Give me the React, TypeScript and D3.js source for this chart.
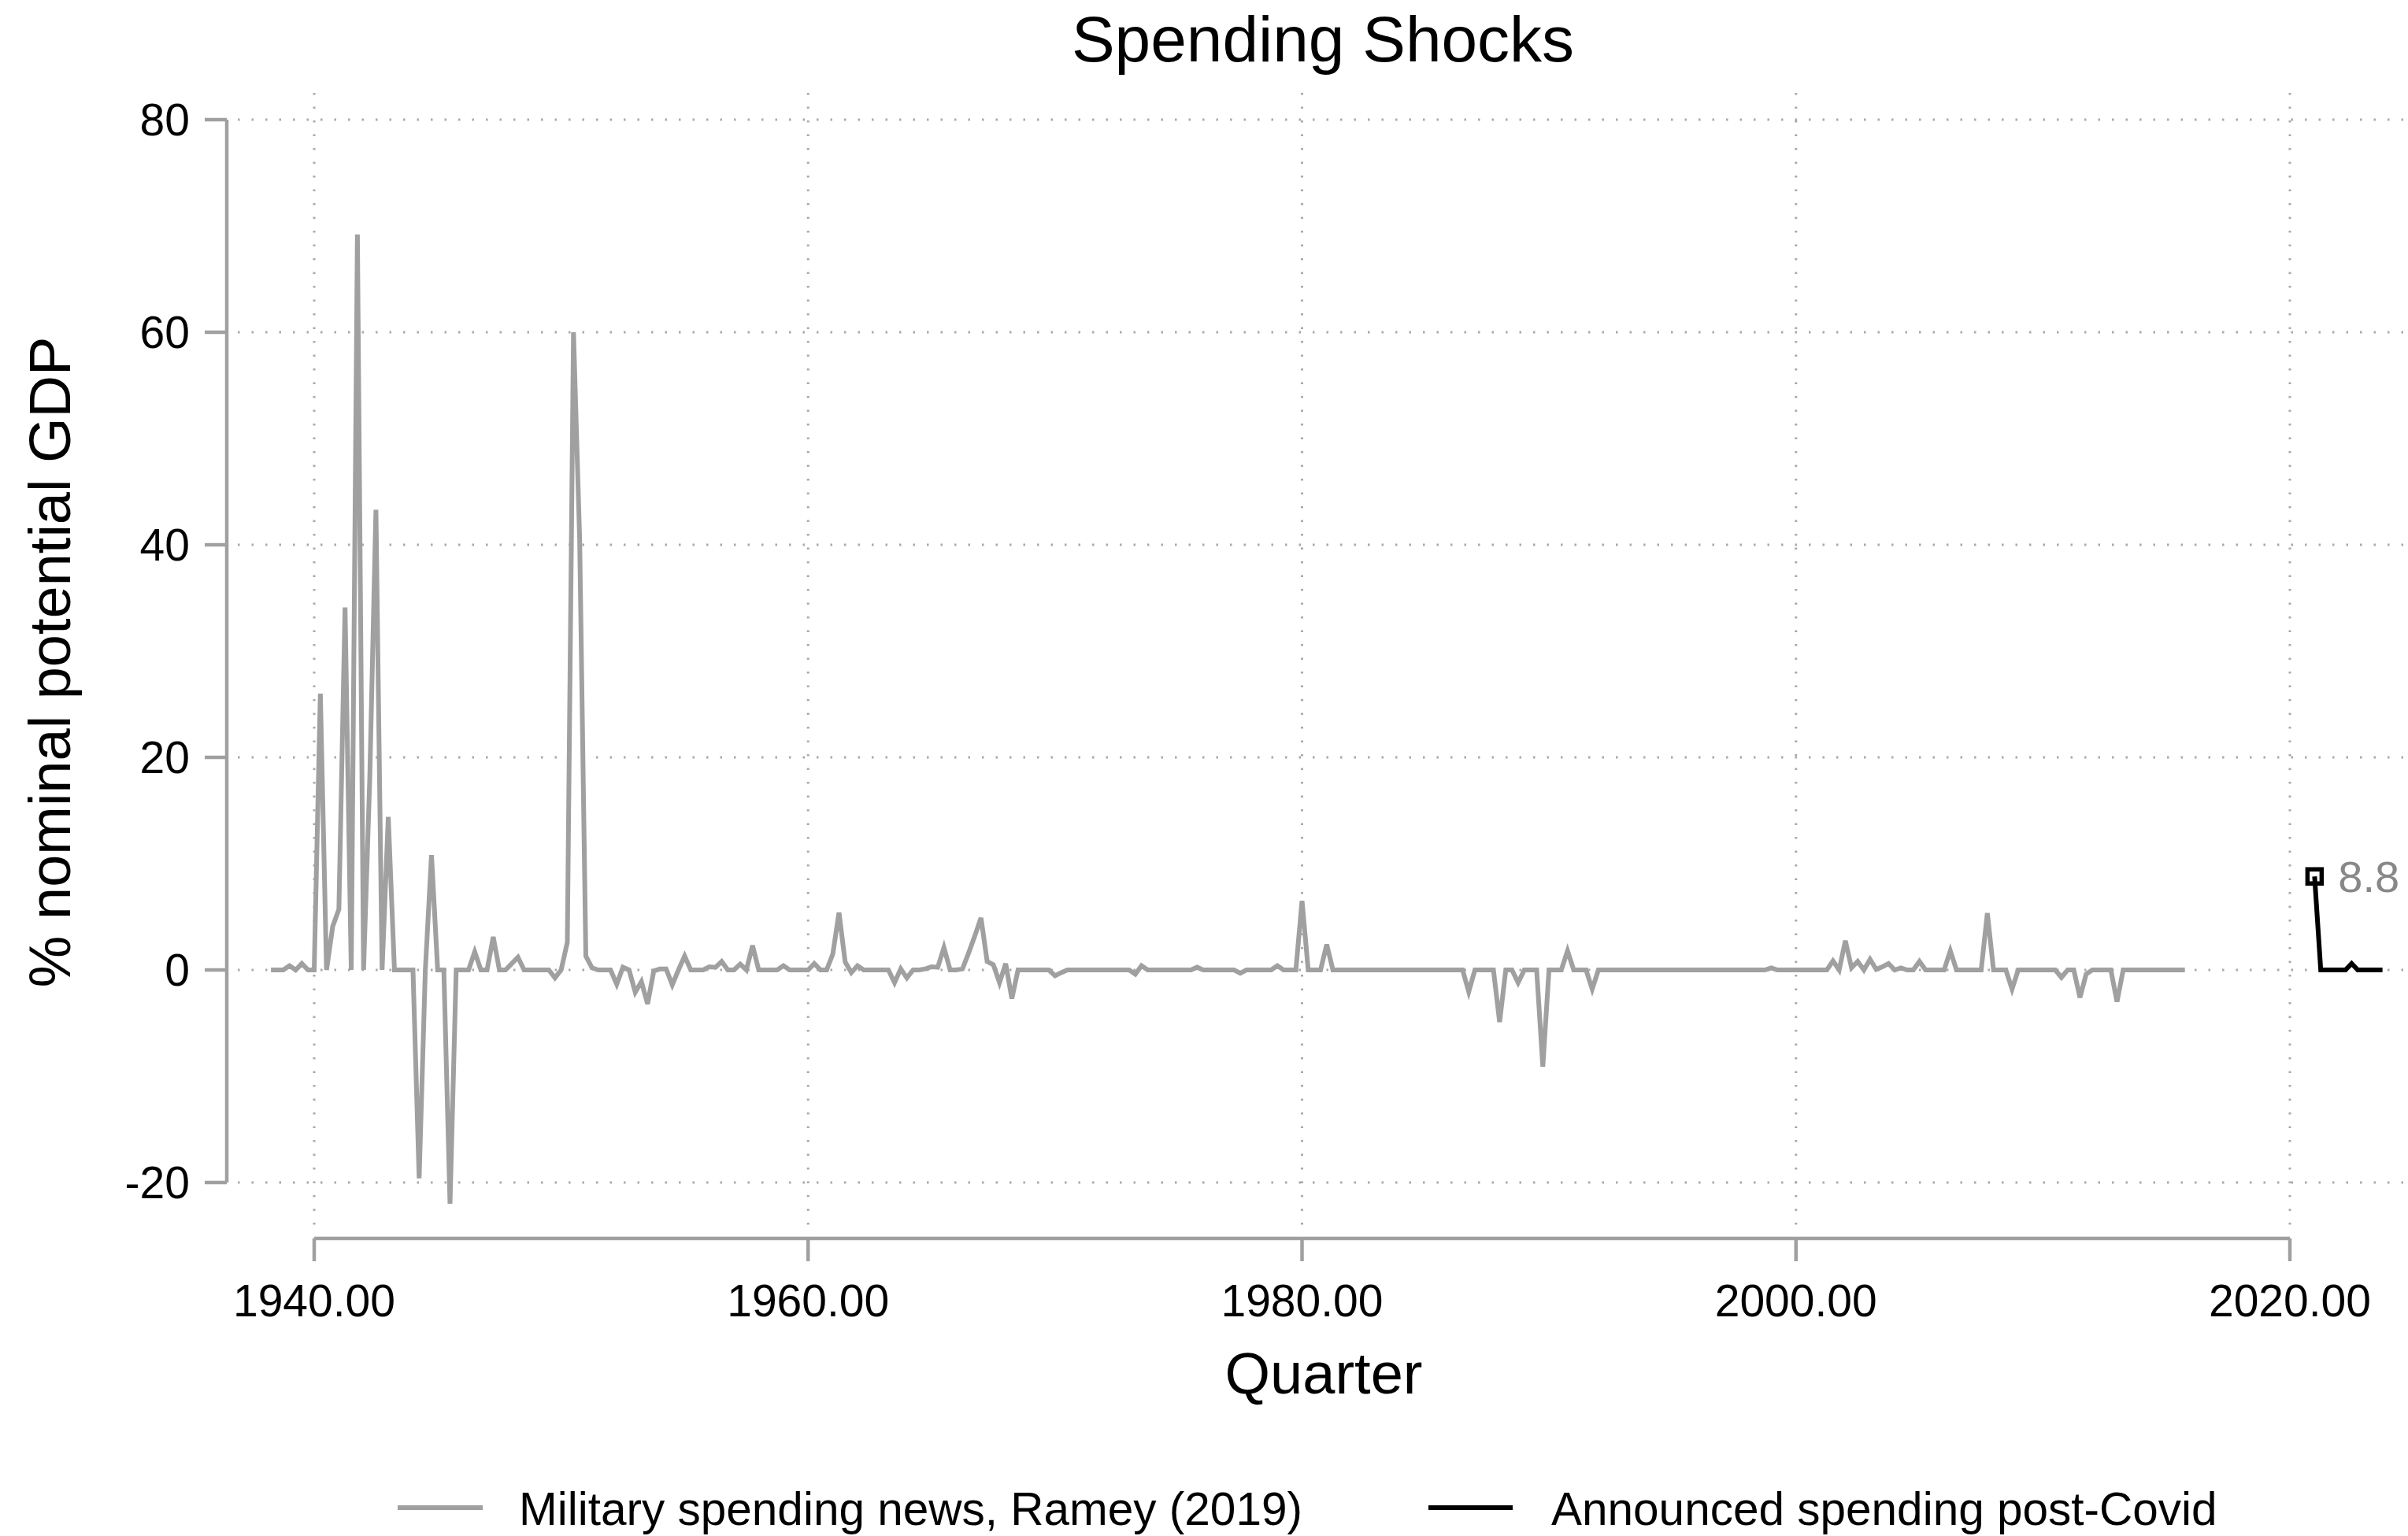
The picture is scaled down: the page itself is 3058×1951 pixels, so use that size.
import React from "react";
import * as d3 from "d3";

// Military spending news (% of nominal potential GDP), quarterly, first quarter 1938.25
const newsStart = 1938.25;
const news1938to1939 = [0, 0, 0, 0.4, 0, 0.6, 0];
const news1940s = [
  0, 26, 0, 4.1,
  5.7, 34.1, 0, 69.2,
  0, 18, 43.3, 0,
  14.4, 0, 0, 0,
  0, -19.6, 0, 10.8,
  0, 0, -22, 0,
  0, 0, 1.7, 0,
  0, 3.1, 0, 0,
  0.6, 1.2, 0, 0,
  0, 0, 0, -0.75,
];
const news1950s = [
  0, 2.6, 60, 40.5,
  1.3, 0.2, 0, 0,
  0, -1.35, 0.25, 0,
  -2.1, -1.1, -3.2, -0.1,
  0.1, 0.1, -1.4, 0,
  1.3, 0, 0, 0,
  0.3, 0.25, 0.8, 0,
  0, 0.55, 0, 2.3,
  0, 0, 0, 0,
  0.4, 0, 0, 0,
];
const news1960s = [
  0, 0.6, 0, 0,
  1.5, 5.4, 0.75, -0.25,
  0.4, 0, 0, 0,
  0, 0, -1.2, 0.1,
  -0.75, 0, 0, 0.1,
  0.3, 0.25, 2.1, 0,
  0, 0.1, 1.6, 3.2,
  4.9, 0.8, 0.5, -1.2,
  0.6, -2.7, 0, 0,
  0, 0, 0, 0,
];
const news1970s = [
  -0.55, -0.25, 0, 0,
  0, 0, 0, 0,
  0, 0, 0, 0,
  0, -0.4, 0.4, 0,
  0, 0, 0, 0,
  0, 0, 0, 0.25,
  0, 0, 0, 0,
  0, 0, -0.3, 0,
  0, 0, 0, 0,
  0.4, 0, 0, 0,
];
const news1980s = [
  6.5, 0, 0, 0,
  2.4, 0, 0, 0,
  0, 0, 0, 0,
  0, 0, 0, 0,
  0, 0, 0, 0,
  0, 0, 0, 0,
  0, 0, 0, -2.05,
  0, 0, 0, 0,
  -4.9, 0, 0, -1.2,
  0, 0, 0, -9.1,
];
const news1990s = [
  0, 0, 0, 1.8,
  0, 0, 0, -1.8,
  0, 0, 0, 0,
  0, 0, 0, 0,
  0, 0, 0, 0,
  0, 0, 0, 0,
  0, 0, 0, 0,
  0, 0, 0, 0,
  0, 0, 0, 0,
  0.2, 0, 0, 0,
];
const news2000s = [
  0, 0, 0, 0,
  0, 0, 0.85, 0,
  2.75, 0.2, 0.8, 0,
  1.0, 0.05, 0.3, 0.6,
  0, 0.2, 0, 0,
  0.8, 0, 0, 0,
  0, 1.8, 0, 0,
  0, 0, 0, 5.35,
  0, 0, 0, -1.8,
  0, 0, 0, 0,
];
const news2010to2015 = [
  0, 0, 0, -0.7,
  0, 0, -2.6, -0.4,
  0, 0, 0, 0,
  -3.0, 0, 0, 0,
  0, 0, 0, 0,
  0, 0, 0, 0,
];

// Announced spending post-Covid, quarterly from 2021.0
const covidStart = 2021.0;
const covidValues = [8.8, 0, 0, 0, 0, 0, 0.6, 0, 0, 0, 0, 0];

const xTicks = [1940, 1960, 1980, 2000, 2020];
const yTicks = [-20, 0, 20, 40, 60, 80];

const titleText = "Spending Shocks";
const xTitle = "Quarter";
const yTitle = "% nominal potential GDP";
const legendLabels = ["Military spending news, Ramey (2019)", "Announced spending post-Covid"];

type Pt = { t: number; v: number };

const W = 3058;
const H = 1951;
const FONT = "'Liberation Sans', Arial, Helvetica, sans-serif";
const GREY = "#a0a0a0";
const GRID = "#a9a9a9";

export default function App() {
  const x = d3.scaleLinear().domain([1940, 2020]).range([399, 2908]);
  const y = d3.scaleLinear().domain([-20, 80]).range([1502, 152]);

  const newsValues = [
    ...news1938to1939,
    ...news1940s,
    ...news1950s,
    ...news1960s,
    ...news1970s,
    ...news1980s,
    ...news1990s,
    ...news2000s,
    ...news2010to2015,
  ];
  const news: Pt[] = newsValues.map((v, i) => ({ t: newsStart + i / 4, v }));
  const covid: Pt[] = covidValues.map((v, i) => ({ t: covidStart + i / 4, v }));

  const line = d3
    .line<Pt>()
    .x((d) => x(d.t))
    .y((d) => y(d.v));

  const fmtX = d3.format(".2f");
  const fmtLabel = d3.format(".1f");

  const gridDash = "2.5 15";
  const first = covid[0];
  const mSize = 18;

  return (
    <svg
      width={W}
      height={H}
      viewBox={`0 0 ${W} ${H}`}
      style={{ position: "absolute", left: 0, top: 0, display: "block", background: "#fff" }}
      fontFamily={FONT}
    >
      <rect x={0} y={0} width={W} height={H} fill="#fff" />

      {/* grid */}
      <g stroke={GRID} strokeWidth={3} strokeDasharray={gridDash}>
        {yTicks.map((t) => (
          <line key={"gy" + t} x1={302} x2={W} y1={y(t)} y2={y(t)} />
        ))}
        {xTicks.map((t) => (
          <line key={"gx" + t} x1={x(t)} x2={x(t)} y1={118} y2={1560} />
        ))}
      </g>

      {/* y axis */}
      <g>
        <line x1={288} x2={288} y1={y(80)} y2={y(-20)} stroke={GREY} strokeWidth={4.5} />
        {yTicks.map((t) => (
          <g key={"yt" + t}>
            <line x1={260} x2={288} y1={y(t)} y2={y(t)} stroke={GREY} strokeWidth={4.5} />
            <text
              x={241}
              y={y(t)}
              dy="0.355em"
              textAnchor="end"
              fontSize={57}
              fill="#000"
            >
              {t}
            </text>
          </g>
        ))}
      </g>

      {/* x axis */}
      <g>
        <line x1={x(1940)} x2={x(2020)} y1={1573} y2={1573} stroke={GREY} strokeWidth={4.5} />
        {xTicks.map((t) => (
          <g key={"xt" + t}>
            <line x1={x(t)} x2={x(t)} y1={1573} y2={1602} stroke={GREY} strokeWidth={4.5} />
            <text x={x(t)} y={1672} textAnchor="middle" fontSize={57} fill="#000">
              {fmtX(t)}
            </text>
          </g>
        ))}
      </g>

      {/* series */}
      <path d={line(news) || ""} fill="none" stroke={GREY} strokeWidth={6} />
      <path d={line(covid) || ""} fill="none" stroke="#000" strokeWidth={6} />
      <rect
        x={x(first.t) - mSize / 2}
        y={y(first.v) - mSize / 2}
        width={mSize}
        height={mSize}
        fill="none"
        stroke="#000"
        strokeWidth={5.5}
      />
      <text x={x(first.t) + 30} y={y(first.v)} dy="0.355em" fontSize={56} fill="#888">
        {fmtLabel(first.v)}
      </text>

      {/* titles */}
      <text x={1680} y={78} textAnchor="middle" fontSize={82} fill="#000">
        {titleText}
      </text>
      <text x={1681} y={1770} textAnchor="middle" fontSize={74} fill="#000">
        {xTitle}
      </text>
      <text
        transform={`translate(89, 841) rotate(-90)`}
        textAnchor="middle"
        fontSize={74}
        fill="#000"
      >
        {yTitle}
      </text>

      {/* legend */}
      <g>
        <line x1={505} x2={613} y1={1915} y2={1915} stroke={GREY} strokeWidth={6} />
        <text x={659} y={1937} fontSize={58.5} fill="#000">
          {legendLabels[0]}
        </text>
        <line x1={1814} x2={1921} y1={1915} y2={1915} stroke="#000" strokeWidth={6} />
        <text x={1970} y={1937} fontSize={58.5} fill="#000">
          {legendLabels[1]}
        </text>
      </g>
    </svg>
  );
}
